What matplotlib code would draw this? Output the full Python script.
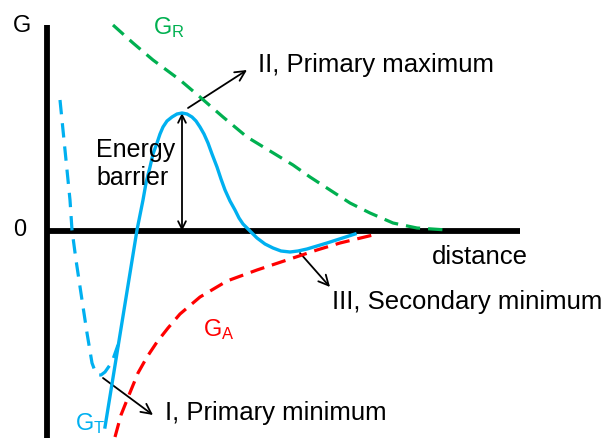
import matplotlib.pyplot as plt
from matplotlib.patches import FancyArrowPatch

plt.rcParams['font.family'] = ['Liberation Sans', 'DejaVu Sans']
plt.rcParams['mathtext.fontset'] = 'custom'
plt.rcParams['mathtext.rm'] = 'Liberation Sans'
plt.rcParams['mathtext.it'] = 'Liberation Sans'

# repulsive energy G_R (distance, energy)
gr_x = [66, 86, 106, 133, 153, 176, 200, 223, 246, 263, 283, 303, 323, 346, 370, 400]
gr_y = [206, 188, 171, 151, 134, 114, 94, 80, 66, 54, 41, 28, 18, 8, 3, 1]

# attractive energy G_A
ga_x = [68, 74, 82, 91, 100, 110, 121, 133, 153, 180, 210, 246, 270, 293, 326]
ga_y = [-206, -184, -164, -142, -126, -111, -97, -83, -66, -50, -39, -27, -19, -12, -4]

# total energy G_T
gt_x = [58, 90, 93, 96, 99, 103, 106, 110, 113, 116, 120, 125, 130, 135, 140,
        145, 149, 153, 157, 161, 165, 170, 174, 178, 183, 188, 192, 196, 200,
        203, 210, 218, 226, 234, 243, 251, 260, 280, 308]
gt_y = [-196, 1, 16, 31, 48, 64, 77, 88, 97, 104, 110, 114, 117, 118, 117,
        114, 110, 104, 97, 88, 77, 64, 52, 41, 30, 21, 13, 7, 3,
        0, -7, -13, -17, -20, -21, -20, -18, -12, -3]

# short range part of G_T (dashed)
gs_x = [13, 18, 23, 25, 29, 35, 40, 45, 48, 51, 54, 58, 65, 71]
gs_y = [131, 81, 31, 1, -29, -69, -102, -132, -140, -144, -144, -141, -131, -114]

blue = '#00B0F0'
green = '#00B050'
red = '#FF0000'

fig = plt.figure(figsize=(6.07, 4.38), dpi=100)
ax = fig.add_axes([0, 0, 1, 1])
ax.set_xlim(-47, 560)
ax.set_ylim(-207, 231)
ax.axis('off')

# axes
ax.plot([0, 0], [-210, 206], color='black', lw=4.2, solid_capstyle='butt')
ax.plot([0, 473], [0, 0], color='black', lw=4.2, solid_capstyle='butt')
ax.text(-25, 205, 'G', fontsize=17, ha='center', va='center')
ax.text(-27, 1, '0', fontsize=17, ha='center', va='center')
ax.text(433, -26, 'distance', fontsize=18.5, ha='center', va='center')

ax.plot(gr_x, gr_y, color=green, lw=2.3, dashes=(4.5, 2.5))
ax.plot(ga_x, ga_y, color=red, lw=2.3, dashes=(4.5, 2.5))
ax.plot(gs_x, gs_y, color=blue, lw=2.3, dashes=(4.5, 2.8))
ax.plot(gt_x, gt_y, color=blue, lw=2.4, solid_joinstyle='round')

ax.text(106, 203, r'G$_\mathrm{R}$', color=green, fontsize=17, ha='left', va='center')
ax.text(156, -99, r'G$_\mathrm{A}$', color=red, fontsize=17, ha='left', va='center')
ax.text(28, -193, r'G$_\mathrm{T}$', color=blue, fontsize=17, ha='left', va='center')

# energy barrier
peak = max(gt_y)
px = gt_x[gt_y.index(peak)]
ax.add_patch(FancyArrowPatch((px, peak), (px, 0), arrowstyle='<->',
                             mutation_scale=14, lw=1.3, color='black',
                             shrinkA=0, shrinkB=0))
ax.text(49, 67, 'Energy\nbarrier', fontsize=18, ha='left', va='center',
        linespacing=1.2)

def callout(start, end, label, tx, ty):
    ax.add_patch(FancyArrowPatch(start, end, arrowstyle='->', mutation_scale=18,
                                 lw=1.3, color='black', shrinkA=0, shrinkB=0))
    ax.text(tx, ty, label, fontsize=18.5, ha='left', va='center')

callout((141, 123), (200, 161), 'II, Primary maximum', 211, 166)
callout((253, -22), (283, -56), 'III, Secondary minimum', 285, -71)
callout((56, -147), (106, -184), 'I, Primary minimum', 118, -182)

fig.savefig('out.png', dpi=100)
